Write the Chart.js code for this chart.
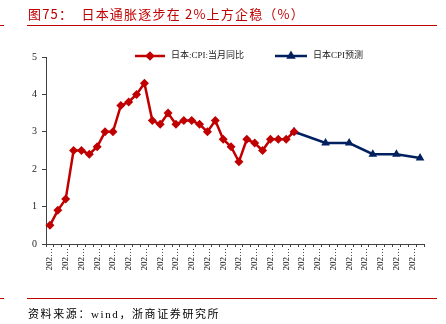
<!DOCTYPE html>
<html>
<head>
<meta charset="utf-8">
<script src="https://cdn.jsdelivr.net/npm/chart.js@4/dist/chart.umd.min.js"></script>
<style>
  body { margin: 0; background: #fff; width: 446px; height: 324px; overflow: hidden; position: relative; }
  #wrap { position: absolute; left: 0; top: 0; width: 446px; height: 324px; }
  .title { position: absolute; left: 28px; top: 4px; font: 13px 'Noto Sans CJK SC', serif; color: #c00000; white-space: pre; letter-spacing: 1.2px; }
  .rule { position: absolute; height: 1px; background: #c00000; }
  .src { position: absolute; left: 28px; top: 305px; font: 11px 'Liberation Serif', 'Noto Sans CJK SC', serif; color: #000; letter-spacing: 1.6px; }
</style>
</head>
<body>
<div id="wrap"><canvas id="chart"></canvas></div>
<div class="title">图75：  日本通胀逐步在 2%上方企稳（%）</div>
<div class="rule" style="left:0;top:25px;width:4px"></div>
<div class="rule" style="left:27px;top:25px;width:410px"></div>
<div class="rule" style="left:0;top:298px;width:4px"></div>
<div class="rule" style="left:27px;top:298px;width:410px"></div>
<div class="src">资料来源：wind，浙商证券研究所</div>
<script>
// 月份 2022-01 ~ 2025-12
const months = [
  '2022-01','2022-02','2022-03','2022-04','2022-05','2022-06','2022-07','2022-08','2022-09','2022-10','2022-11','2022-12',
  '2023-01','2023-02','2023-03','2023-04','2023-05','2023-06','2023-07','2023-08','2023-09','2023-10','2023-11','2023-12',
  '2024-01','2024-02','2024-03','2024-04','2024-05','2024-06','2024-07','2024-08','2024-09','2024-10','2024-11','2024-12',
  '2025-01','2025-02','2025-03','2025-04','2025-05','2025-06','2025-07','2025-08','2025-09','2025-10','2025-11','2025-12'
];

// 日本:CPI:当月同比
const cpiActual = [
  0.5, 0.9, 1.2, 2.5, 2.5, 2.4, 2.6, 3.0, 3.0, 3.7, 3.8, 4.0,
  4.3, 3.3, 3.2, 3.5, 3.2, 3.3, 3.3, 3.2, 3.0, 3.3, 2.8, 2.6,
  2.2, 2.8, 2.7, 2.5, 2.8, 2.8, 2.8, 3.0, null, null, null, null,
  null, null, null, null, null, null, null, null, null, null, null, null
];

// 日本CPI预测
const cpiForecast = [
  null, null, null, null, null, null, null, null, null, null, null, null,
  null, null, null, null, null, null, null, null, null, null, null, null,
  null, null, null, null, null, null, null, 3.0, null, null, null, 2.7,
  null, null, 2.7, null, null, 2.4, null, null, 2.4, null, null, 2.3
];

const yTicks = [0, 1, 2, 3, 4, 5];

const serif = "'Liberation Serif', 'Noto Sans CJK SC', serif";
const axisColor = '#404040';

// 图例画在绘图区顶部
const legendPlugin = {
  id: 'innerLegend',
  afterDraw(chart) {
    const ctx = chart.ctx;
    const items = [
      { ds: chart.data.datasets[0], x: 135, len: 30 },
      { ds: chart.data.datasets[1], x: 275, len: 32 }
    ];
    const y = 56;
    ctx.save();
    ctx.font = '9px ' + serif;
    ctx.textBaseline = 'middle';
    items.forEach(it => {
      ctx.strokeStyle = it.ds.borderColor;
      ctx.lineWidth = 2.5;
      ctx.beginPath();
      ctx.moveTo(it.x, y);
      ctx.lineTo(it.x + it.len, y);
      ctx.stroke();
      Chart.helpers.drawPoint(ctx, {
        pointStyle: it.ds.pointStyle, radius: 3, rotation: 0, borderWidth: 1
      }, it.x + it.len / 2, y);
      ctx.fillStyle = it.ds.borderColor;
      ctx.fill();
      ctx.fillStyle = '#222';
      ctx.fillText(it.ds.label, it.x + it.len + 6, y);
    });
    ctx.restore();
  }
};

new Chart(document.getElementById('chart'), {
  type: 'line',
  data: {
    labels: months,
    datasets: [
      {
        label: '日本:CPI:当月同比',
        data: cpiActual,
        borderColor: '#c00000',
        backgroundColor: '#c00000',
        borderWidth: 2.5,
        pointStyle: 'rectRot',
        pointRadius: 4.5,
        pointBorderWidth: 0,
        tension: 0
      },
      {
        label: '日本CPI预测',
        data: cpiForecast,
        borderColor: '#002060',
        backgroundColor: '#002060',
        borderWidth: 2.5,
        pointStyle: 'triangle',
        pointRadius: 5,
        pointBorderWidth: 0,
        spanGaps: true,
        tension: 0
      }
    ]
  },
  options: {
    responsive: true,
    maintainAspectRatio: false,
    animation: false,
    layout: { padding: { left: 0, right: 22, top: 57, bottom: 50 } },
    plugins: {
      legend: { display: false },
      tooltip: { enabled: false }
    },
    scales: {
      x: {
        offset: true,
        afterFit(scale) { scale.height = 30; },
        grid: { offset: true, drawOnChartArea: false, drawTicks: true, tickLength: 3, color: axisColor },
        border: { color: axisColor, width: 1 },
        ticks: {
          autoSkip: false,
          minRotation: 90,
          maxRotation: 90,
          padding: 1,
          color: '#111',
          font: { family: serif, size: 9 },
          callback(value, index) {
            return index % 2 === 0 ? months[index].slice(0, 3) + '…' : '';
          }
        }
      },
      y: {
        min: yTicks[0],
        max: yTicks[yTicks.length - 1],
        afterFit(scale) { scale.width = 46; },
        afterBuildTicks(scale) { scale.ticks = yTicks.map(v => ({ value: v })); },
        grid: { drawOnChartArea: false, drawTicks: true, tickLength: 4, color: axisColor },
        border: { color: axisColor, width: 1 },
        ticks: {
          padding: 5,
          color: '#222',
          font: { family: serif, size: 10 }
        }
      }
    }
  },
  plugins: [legendPlugin]
});
</script>
</body>
</html>
